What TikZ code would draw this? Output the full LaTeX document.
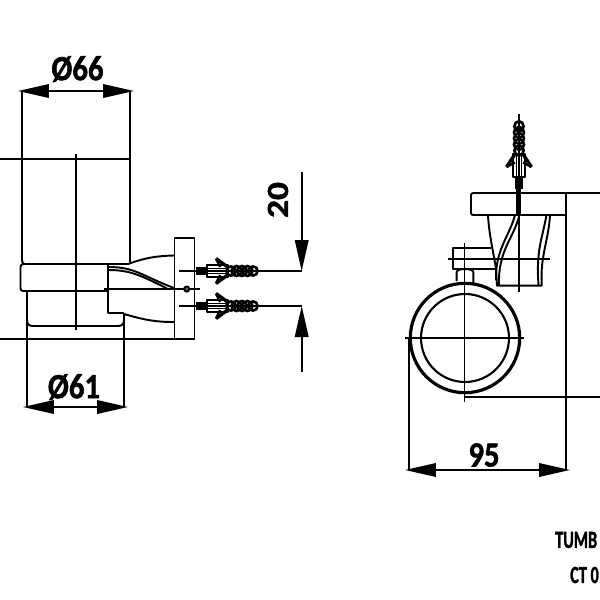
\documentclass[tikz,border=0pt]{standalone}
\usepackage{fontspec}
\setmainfont{Carlito}[Ligatures=TeX,BoldFeatures={FakeBold=1.6}]
\usetikzlibrary{arrows.meta}
\tikzset{
  px/.style={x=0.02cm,y=-0.02cm},
  line/.style={line width=1.1pt,black,line join=round},
  heavy/.style={line width=1.8pt,black},
  tipline/.style={line,-{Triangle[length=0.62cm,width=0.27cm]}},
  dimboth/.style={line,{Triangle[length=0.62cm,width=0.27cm]}-{Triangle[length=0.62cm,width=0.27cm]}},
  dimtext/.style={font=\bfseries\fontsize{17.5}{20}\selectfont,inner sep=0pt,yscale=1.15},
  titletext/.style={font=\bfseries\fontsize{14}{16}\selectfont,inner sep=0pt,anchor=west,xscale=0.66},
  anchorplug/.pic={
    \fill (0,-3.8) rectangle (11,3.8);
    \draw[line] (11,-6) rectangle (32,6);
    \draw[line] (11,-2.5) -- (32,-2.5) (11,2.5) -- (32,2.5);
    \draw[line width=1.9pt] (20,-12.5) -- (33,-3) (20,12.5) -- (33,3);
    \draw[line width=1.3pt] (20,-12.5) -- (24,-4) (20,12.5) -- (24,4);
    \foreach \cx/\cr in {35/4.6,40.5/5,46/5,51.5/5,57/4.6}
      \draw[line width=1.5pt] (\cx,0) circle (\cr);
    \fill (32,-1.4) rectangle (60,1.4);
  }
}
\begin{document}
\begin{tikzpicture}[px]
\useasboundingbox (0,0) rectangle (600,600);
\clip (0,0) rectangle (600,600);

% ---- left view: glass
\draw[line] (0,159) -- (130,159);
\draw[line] (22,91) -- (22,260) .. controls (22,263) and (23,264) .. (25,264);
\draw[line] (130,91) -- (130,262);
\draw[line] (76,154) -- (76,330);
% band
\draw[line] (23,264) -- (129,264);
\draw[line] (25,264) .. controls (21.5,264) and (20.5,265) .. (20.5,267) -- (20.5,288) .. controls (20.5,290) and (21.5,291) .. (23,291) -- (108,291);
\draw[line] (108,264) -- (108,313) -- (124,313);
% lower cup
\draw[line] (27,291) -- (27,407);
\draw[line] (124,313) -- (124,407);
\draw[line] (27,320) .. controls (27,324) and (29,326) .. (33,326) -- (118,326) .. controls (122,326) and (124,324) .. (124,320);
\draw[line] (0,339) -- (195,339);
% plate
\draw[line] (174.5,238) rectangle (194.5,339);
% arm
\draw[line] (128,264) .. controls (145,258) and (155,256) .. (174,255.5);
\draw[line] (108,267) .. controls (135,267) and (140,275) .. (174,288);
\draw[line] (108,270) .. controls (130,270) and (140,275) .. (167,288.5);
\draw[line] (124,314) .. controls (145,320) and (155,322) .. (174,322);
% axis + screw hole
\draw[line] (104,289) -- (200,289);
\draw[line,fill=black!60] (186.7,289) circle (2.6);
% fixing lines + 20 dim
\coordinate (d20a) at (301.7,271);
\coordinate (d20b) at (301.7,306);
\coordinate (d20top) at (301.7,172);
\coordinate (d20bot) at (301.7,372);
\draw[line] (179,271) -- (d20a);
\draw[line] (179,306) -- (d20b);
\draw[tipline] (d20top) -- (d20a);
\draw[tipline] (d20bot) -- (d20b);
\pic at (196,271) {anchorplug};
\pic at (196,306) {anchorplug};

% dimensions left
\coordinate (d66a) at (18,91);
\coordinate (d66b) at (134,91);
\draw[dimboth] (d66a) -- (d66b);
\coordinate (d61a) at (23,407);
\coordinate (d61b) at (128,407);
\draw[dimboth] (d61a) -- (d61b);
\node[dimtext] (t66) at (77.5,69) {Ø66};
\node[dimtext] (t61) at (74,387) {Ø61};
\node[dimtext,rotate=90] (t20) at (278,200) {20};

% ---- right view: plate and cup
\draw[line] (473,193) -- (600,193);
\draw[line] (473,193) .. controls (472,193) and (471,194) .. (471,195) -- (471,213) .. controls (471,214) and (472,215) .. (473,215) -- (566,215);
\draw[line] (566,193) -- (566,470);
\draw[line] (519,114) -- (519,292);
\draw[line] (488,215) .. controls (489,235) and (494,255) .. (496,269) -- (497,285.7) -- (541.7,285.7) -- (541.7,270) .. controls (543,250) and (549,235) .. (550,215);
\draw[line] (519.5,215) .. controls (513,240) and (498,250) .. (499,285);
\draw[line] (515,215) .. controls (510,235) and (495,250) .. (496,280);
\draw[line] (546.5,215) .. controls (542,240) and (536,250) .. (538.5,285);
% clip block
\draw[line] (491,248) -- (453,248) -- (453,269) -- (495,269);
\draw[line] (448,259) -- (550,259);
\draw[line] (456.7,281) -- (456.7,272) .. controls (457,268) and (473,268) .. (473.3,272) -- (473.3,284);
% ring
\draw[heavy] (465,338) circle (54.7);
\draw[line,line width=1.2pt] (465,338) circle (44);
\draw[line] (464.5,243) -- (464.5,402);
\draw[line] (405,338) -- (524,338);
\draw[line] (465,396.7) -- (600,396.7);
\draw[line] (409,338) -- (409,470);
% vertical anchor
\fill (516.5,178) rectangle (521.5,215);
\pic[rotate=90,xscale=1.1] at (519,189) {anchorplug};

% dim 95
\coordinate (d95a) at (405,470);
\coordinate (d95b) at (570,470);
\draw[dimboth] (d95a) -- (d95b);
\node[dimtext] (t95) at (484,455) {95};

% title
\node[titletext] (tt1) at (555,540) {TUMB};
\node[titletext] (tt2) at (570,575) {CT 0};
\end{tikzpicture}
\end{document}
